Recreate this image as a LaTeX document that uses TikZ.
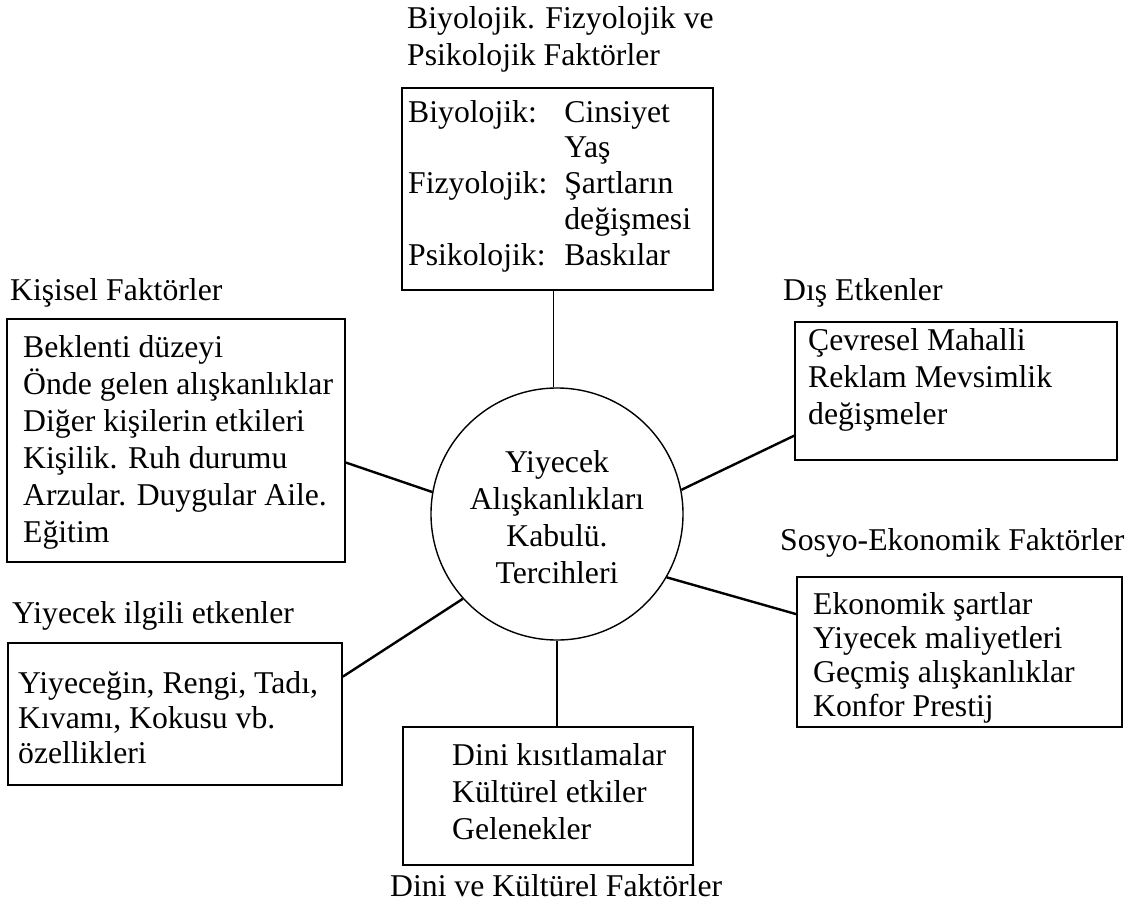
\documentclass[tikz,border=0pt]{standalone}
\usepackage{fontspec}
\setmainfont{Liberation Serif}
\usetikzlibrary{calc}
\begin{document}
\begin{tikzpicture}[x=1pt,y=-1pt,
  box/.style={draw, line width=1.4pt, inner sep=0pt},
  txt/.style={anchor=base west, inner sep=0pt, font=\fontsize{31.7}{37}\selectfont},
  ctxt/.style={anchor=base, inner sep=0pt, font=\fontsize{31.7}{37}\selectfont},
  vline/.style={line width=1.5pt},
  dline/.style={line width=2.4pt}]
\useasboundingbox (0,0) rectangle (1137,908);

% centre
\node[draw, circle, line width=1.4pt, minimum size=252pt, inner sep=0pt] (c) at (557,514) {};
\node[ctxt] (ct) at (557,472) {\begin{tabular}[t]{@{}c@{}}Yiyecek\\ Alışkanlıkları\\ Kabulü.\\ Tercihleri\end{tabular}};

% top
\node[txt] (tl) at (407,28) {\begin{tabular}[t]{@{}l@{}}Biyolojik. Fizyolojik ve\\ Psikolojik Faktörler\end{tabular}};
\node[box, minimum width=311pt, minimum height=202pt] (bt) at (557.5,189) {};
\node[txt] (btt) at (408,122) {\def\arraystretch{0.97}\begin{tabular}[t]{@{}l@{\hspace{17pt}}l@{}}Biyolojik: & Cinsiyet\\ & Yaş\\ Fizyolojik: & Şartların\\ & değişmesi\\ Psikolojik: & Baskılar\end{tabular}};

% left upper
\node[txt] (kl) at (10,300) {Kişisel Faktörler};
\node[box, minimum width=338pt, minimum height=243pt] (kb) at (176,440.5) {};
\node[txt] (kbt) at (23,357) {\begin{tabular}[t]{@{}l@{}}Beklenti düzeyi\\ Önde gelen alışkanlıklar\\ Diğer kişilerin etkileri\\ Kişilik. Ruh durumu\\ Arzular. Duygular Aile.\\ Eğitim\end{tabular}};

% left lower
\node[txt] (yl) at (12,623) {Yiyecek ilgili etkenler};
\node[box, minimum width=334pt, minimum height=142pt] (yb) at (175,714) {};
\node[txt] (ybt) at (18,693) {\def\arraystretch{0.95}\begin{tabular}[t]{@{}l@{}}Yiyeceğin, Rengi, Tadı,\\ Kıvamı, Kokusu vb.\\ özellikleri\end{tabular}};

% right upper
\node[txt] (dl) at (783,300) {Dış Etkenler};
\node[box, minimum width=322pt, minimum height=138pt] (db) at (956,391) {};
\node[txt] (dbt) at (808,350) {\begin{tabular}[t]{@{}l@{}}Çevresel Mahalli\\ Reklam Mevsimlik\\ değişmeler\end{tabular}};

% right lower
\node[txt] (sl) at (780,550) {Sosyo-Ekonomik Faktörler};
\node[box, minimum width=325pt, minimum height=150pt] (sb) at (959.5,652) {};
\node[txt] (sbt) at (813,614) {\def\arraystretch{0.92}\begin{tabular}[t]{@{}l@{}}Ekonomik şartlar\\ Yiyecek maliyetleri\\ Geçmiş alışkanlıklar\\ Konfor Prestij\end{tabular}};

% bottom
\node[box, minimum width=290pt, minimum height=138pt] (kk) at (548,796) {};
\node[txt] (kkt) at (452,765) {\begin{tabular}[t]{@{}l@{}}Dini kısıtlamalar\\ Kültürel etkiler\\ Gelenekler\end{tabular}};
\node[txt] (kl2) at (390,896) {Dini ve Kültürel Faktörler};

% connectors
\coordinate (tp) at ($(bt.south)+(-4,0)$);
\draw[vline] (tp) -- (tp |- c.north);
\draw[vline] (c.south) -- (c.south |- kk.north);
\draw[dline] (c.170) -- ($(kb.north east)!0.59!(kb.south east)$);
\draw[dline] (c.222) -- ($(yb.north east)!0.24!(yb.south east)$);
\draw[dline] (c.11) -- ($(db.north west)!0.82!(db.south west)$);
\draw[dline] (c.-30) -- ($(sb.north west)!0.25!(sb.south west)$);
\end{tikzpicture}
\end{document}
